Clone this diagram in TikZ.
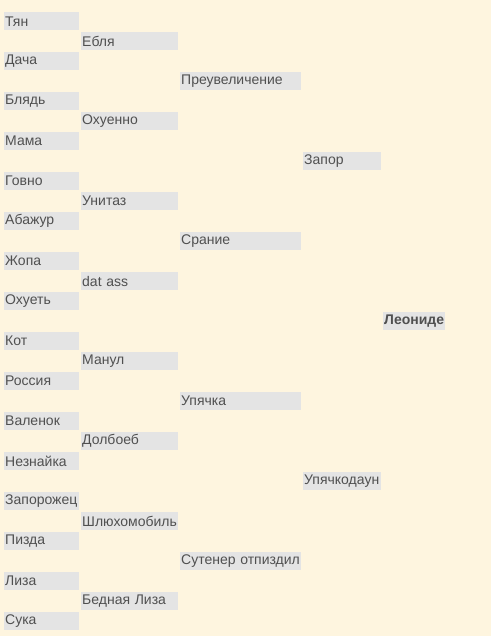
\documentclass[tikz,border=0pt]{standalone}
\usepackage{fontspec}
\setmainfont{Liberation Sans}
\definecolor{bgcream}{HTML}{FEF5DF}
\definecolor{cellgray}{HTML}{E4E4E4}
\definecolor{txtgray}{HTML}{505050}
\tikzset{
    cell/.style={fill=cellgray,text=txtgray,anchor=north west,inner xsep=1pt,inner ysep=0pt,
        minimum height=18pt,align=left,font=\fontsize{14}{16}\selectfont},
    rA/.style={cell,text width=73pt},
    rB/.style={cell,text width=95pt},
    rC/.style={cell,text width=119pt},
    rD/.style={cell,text width=76pt},
    rE/.style={cell,text width=60pt,font=\fontsize{14}{16}\selectfont\bfseries}
}
\begin{document}
\begin{tikzpicture}[x=1pt,y=-1pt]
    %Hintergrund
    \fill[bgcream] (0,0) rectangle (491,636);
    \useasboundingbox (0,0) rectangle (491,636);
    %Runde 1
    \node[rA] (a1) at (4,12) {Тян};
    \node[rA] (a2) at (4,52) {Дача};
    \node[rA] (a3) at (4,92) {Блядь};
    \node[rA] (a4) at (4,132) {Мама};
    \node[rA] (a5) at (4,172) {Говно};
    \node[rA] (a6) at (4,212) {Абажур};
    \node[rA] (a7) at (4,252) {Жопа};
    \node[rA] (a8) at (4,292) {Охуеть};
    \node[rA] (a9) at (4,332) {Кот};
    \node[rA] (a10) at (4,372) {Россия};
    \node[rA] (a11) at (4,412) {Валенок};
    \node[rA] (a12) at (4,452) {Незнайка};
    \node[rA] (a13) at (4,492) {Запорожец};
    \node[rA] (a14) at (4,532) {Пизда};
    \node[rA] (a15) at (4,572) {Лиза};
    \node[rA] (a16) at (4,612) {Сука};
    %Runde 2
    \node[rB] (b1) at (81,32) {Ебля};
    \node[rB] (b2) at (81,112) {Охуенно};
    \node[rB] (b3) at (81,192) {Унитаз};
    \node[rB] (b4) at (81,272) {dat ass};
    \node[rB] (b5) at (81,352) {Манул};
    \node[rB] (b6) at (81,432) {Долбоеб};
    \node[rB] (b7) at (81,512) {Шлюхомобиль};
    \node[rB] (b8) at (81,592) {Бедная Лиза};
    %Runde 3
    \node[rC] (c1) at (180,72) {Преувеличение};
    \node[rC] (c2) at (180,232) {Срание};
    \node[rC] (c3) at (180,392) {Упячка};
    \node[rC] (c4) at (180,552) {Сутенер отпиздил};
    %Halbfinale
    \node[rD] (d1) at (303,152) {Запор};
    \node[rD] (d2) at (303,472) {Упячкодаун};
    %Sieger
    \node[rE] (e1) at (383,312) {Леониде};
\end{tikzpicture}
\end{document}
